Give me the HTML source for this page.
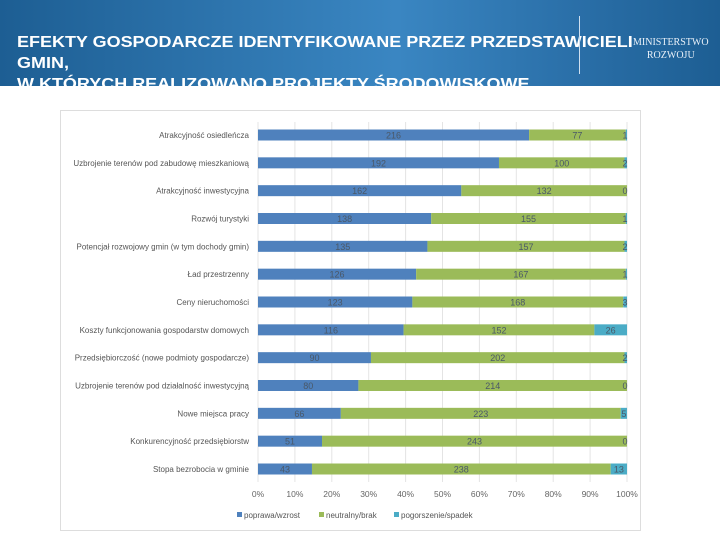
<!DOCTYPE html>
<html><head><meta charset="utf-8"><style>
body{margin:0;width:720px;height:540px;overflow:hidden;background:#fff;font-family:"Liberation Sans",sans-serif;position:relative}
#hdr{position:absolute;left:0;top:0;width:720px;height:86px;overflow:hidden;background:linear-gradient(90deg,#1d5e93 0%,#3a86c2 55%,#2a6fa8 80%,#1d5e93 100%)}
#title{position:absolute;left:17px;top:32px;color:#fff;font-weight:bold;font-size:15.5px;line-height:21px;white-space:nowrap;transform:scaleX(1.16);transform-origin:left top}
#div{position:absolute;left:579px;top:16px;width:1px;height:58px;background:#cfe0ef}
#logo{position:absolute;left:633px;top:36px;color:#e8f0f8;font-family:"Liberation Serif",serif;font-size:10px;line-height:13px;text-align:center}
#box{position:absolute;left:60px;top:110px;width:579px;height:419px;border:1px solid #ddd}
</style></head><body>
<div id="hdr">
<div id="title">EFEKTY GOSPODARCZE IDENTYFIKOWANE PRZEZ PRZEDSTAWICIELI<br>GMIN,<br>W KTÓRYCH REALIZOWANO PROJEKTY ŚRODOWISKOWE</div>
<div id="div"></div>
<div id="logo">MINISTERSTWO<br>ROZWOJU</div>
</div>
<div id="box"></div>
<svg id="chart" width="720" height="540" style="position:absolute;left:0;top:0"></svg>
<script>
const categories=["Atrakcyjność osiedleńcza","Uzbrojenie terenów pod zabudowę mieszkaniową","Atrakcyjność inwestycyjna","Rozwój turystyki","Potencjał rozwojowy gmin (w tym dochody gmin)","Ład przestrzenny","Ceny nieruchomości","Koszty funkcjonowania gospodarstw domowych","Przedsiębiorczość (nowe podmioty gospodarcze)","Uzbrojenie terenów pod działalność inwestycyjną","Nowe miejsca pracy","Konkurencyjność przedsiębiorstw","Stopa bezrobocia w gminie"];
const improve=[216,192,162,138,135,126,123,116,90,80,66,51,43];
const neutral=[77,100,132,155,157,167,168,152,202,214,223,243,238];
const worse=[1,2,0,1,2,1,3,26,2,0,5,0,13];
const ticks=["0%","10%","20%","30%","40%","50%","60%","70%","80%","90%","100%"];
const seriesNames=["poprawa/wzrost","neutralny/brak","pogorszenie/spadek"];
const colors=["#4f81bd","#9bbb59","#4bacc6"];
const svg=document.getElementById('chart');
const NS="http://www.w3.org/2000/svg";
const X0=258,X1=627,Y0=135,Y1=469;
const xs=f=>X0+f*(X1-X0);
const ys=i=>Y0+i*(Y1-Y0)/(categories.length-1);
function mk(t,a){const e=document.createElementNS(NS,t);for(const k in a)e.setAttribute(k,a[k]);svg.appendChild(e);return e;}
ticks.forEach((t,i)=>{const x=xs(i/(ticks.length-1));
const g=mk('line',{x1:x,x2:x,y1:122,y2:482,stroke:'#e4e4e4','stroke-width':1});


const tx=mk('text',{x:x,y:497,'font-size':8.5,fill:'#666','text-anchor':'middle'});tx.textContent=t;


});
const series=[improve,neutral,worse];
categories.forEach((c,i)=>{const y=ys(i);
const lb=mk('text',{x:249,y:y+3,'font-size':8,fill:'#555','text-anchor':'end'});lb.textContent=c;


const tot=improve[i]+neutral[i]+worse[i];let acc=0;
series.forEach((s,k)=>{const a=xs(acc/tot),b=xs((acc+s[i])/tot);acc+=s[i];
const r=mk('rect',{x:a,y:y-5.5,width:Math.max(0,b-a),height:11,fill:colors[k]});


const cx=k==2?Math.min((a+b)/2,X1-2):(a+b)/2;
const v=mk('text',{x:cx,y:y+3.5,'font-size':9,fill:'#4a5868','text-anchor':'middle'});v.textContent=s[i];


});});
const lx=[237,319,394];
seriesNames.forEach((n,k)=>{
const r=mk('rect',{x:lx[k],y:512,width:5,height:5,fill:colors[k]});


const t=mk('text',{x:lx[k]+7,y:518,'font-size':8,fill:'#555'});t.textContent=n;


});
</script>
</body></html>
